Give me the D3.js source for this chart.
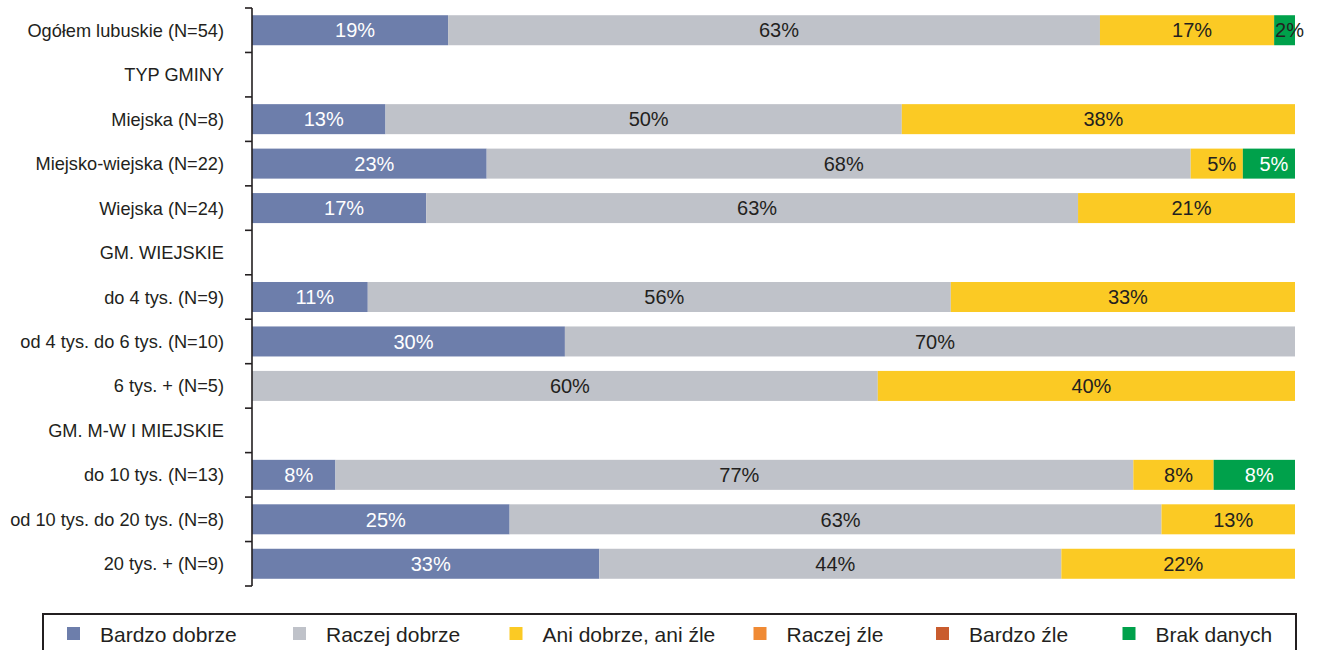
<!DOCTYPE html>
<html>
<head>
<meta charset="utf-8">
<script src="https://cdn.jsdelivr.net/npm/d3@7"></script>
<style>
  html, body { margin: 0; padding: 0; background: #fff; }
  svg { display: block; font-family: "Liberation Sans", Arial, Helvetica, sans-serif; }
</style>
</head>
<body>
<svg id="chart" width="1321" height="650"></svg>
<script>
// ---- DATA ----
const categories = [
  "Ogółem lubuskie (N=54)",
  "TYP GMINY",
  "Miejska (N=8)",
  "Miejsko-wiejska (N=22)",
  "Wiejska (N=24)",
  "GM. WIEJSKIE",
  "do 4 tys. (N=9)",
  "od 4 tys. do 6 tys. (N=10)",
  "6 tys. + (N=5)",
  "GM. M-W I MIEJSKIE",
  "do 10 tys. (N=13)",
  "od 10 tys. do 20 tys. (N=8)",
  "20 tys. + (N=9)"
];
const seriesNames = ["Bardzo dobrze", "Raczej dobrze", "Ani dobrze, ani źle", "Raczej źle", "Bardzo źle", "Brak danych"];
// values in percent; null = section header row
const bardzoDobrze    = [18.8, null, 12.8, 22.5, 16.7, null, 11.1, 30, 0,  null, 8.0,  24.7, 33.3];
const raczejDobrze    = [62.5, null, 49.5, 67.5, 62.5, null, 55.9, 70, 60, null, 76.5, 62.5, 44.3];
const aniDobrzeAniZle = [16.7, null, 37.7, 5.0,  20.8, null, 33.0, 0,  40, null, 7.7,  12.8, 22.4];
const raczejZle       = [0,    null, 0,    0,    0,    null, 0,    0,  0,  null, 0,    0,    0];
const bardzoZle       = [0,    null, 0,    0,    0,    null, 0,    0,  0,  null, 0,    0,    0];
const brakDanych      = [2.0,  null, 0,    5.0,  0,    null, 0,    0,  0,  null, 7.8,  0,    0];
const seriesValues = [bardzoDobrze, raczejDobrze, aniDobrzeAniZle, raczejZle, bardzoZle, brakDanych];

// ---- STYLE ----
const colors = ["#6d7eab", "#bfc2c9", "#fbca24", "#f08a34", "#c95c2e", "#00a14b"];
const labelColors = ["#ffffff", "#231f20", "#231f20", "#231f20", "#ffffff", "#ffffff"];
const ink = "#231f20";

const svg = d3.select("#chart");
const x = d3.scaleLinear().domain([0, 100]).range([252, 1295]);
const y = d3.scaleBand().domain(categories).range([8, 586]).paddingInner(0.325).paddingOuter(0.1625);

// rows table
const rows = categories.map((c, i) => {
  const r = { cat: c, header: bardzoDobrze[i] === null };
  seriesNames.forEach((s, k) => r[s] = seriesValues[k][i] || 0);
  return r;
});
const stack = d3.stack().keys(seriesNames)(rows);

const fmt = d3.format(".0f");
const g = svg.append("g");

stack.forEach((layer, k) => {
  const lg = g.append("g");
  layer.forEach((seg, i) => {
    const v = seg[1] - seg[0];
    if (rows[i].header || v <= 0) return;
    const x0 = x(seg[0]), x1 = x(seg[1]);
    lg.append("rect")
      .attr("x", x0).attr("y", y(rows[i].cat))
      .attr("width", x1 - x0).attr("height", y.bandwidth())
      .attr("fill", colors[k]);
    const label = fmt(seriesValues[k][i]) + "%";
    const t = lg.append("text")
      .attr("x", (x0 + x1) / 2 + 5)
      .attr("y", y(rows[i].cat) + y.bandwidth() / 2)
      .attr("dy", "0.36em")
      .attr("text-anchor", "middle")
      .attr("font-size", 20)
      .attr("fill", labelColors[k])
      .text(label);
    const tw = t.node().getComputedTextLength();
    if (tw > (x1 - x0)) t.attr("fill", ink);
  });
});

// category labels
g.append("g").selectAll("text").data(categories).join("text")
  .attr("x", 224)
  .attr("y", d => y(d) + y.bandwidth() / 2)
  .attr("dy", "0.36em")
  .attr("text-anchor", "end")
  .attr("font-size", 18.2)
  .attr("fill", ink)
  .text(d => d);

// axis line with ticks at band boundaries
const axisX = 252;
const boundaries = categories.map(c => y(c) - y.step() * y.paddingInner() / 2).concat([y.range()[1]]);
const ax = g.append("g").attr("stroke", ink).attr("stroke-width", 1.6);
ax.append("line").attr("x1", axisX).attr("x2", axisX).attr("y1", y.range()[0]).attr("y2", y.range()[1]);
ax.selectAll("line.tick").data(boundaries).join("line").attr("class", "tick")
  .attr("x1", axisX - 7).attr("x2", axisX).attr("y1", d => d).attr("y2", d => d);

// legend
const legend = svg.append("g");
legend.append("rect").attr("x", 43).attr("y", 614).attr("width", 1253).attr("height", 60)
  .attr("fill", "none").attr("stroke", ink).attr("stroke-width", 2);
const legendX = [67, 293, 509.5, 753.5, 936, 1122.5];
seriesNames.forEach((s, k) => {
  legend.append("rect").attr("x", legendX[k]).attr("y", 627).attr("width", 13).attr("height", 13).attr("fill", colors[k]);
  legend.append("text").attr("x", legendX[k] + 33).attr("y", 634).attr("dy", "0.36em")
    .attr("font-size", 21).attr("fill", ink).text(s);
});
</script>
</body>
</html>
